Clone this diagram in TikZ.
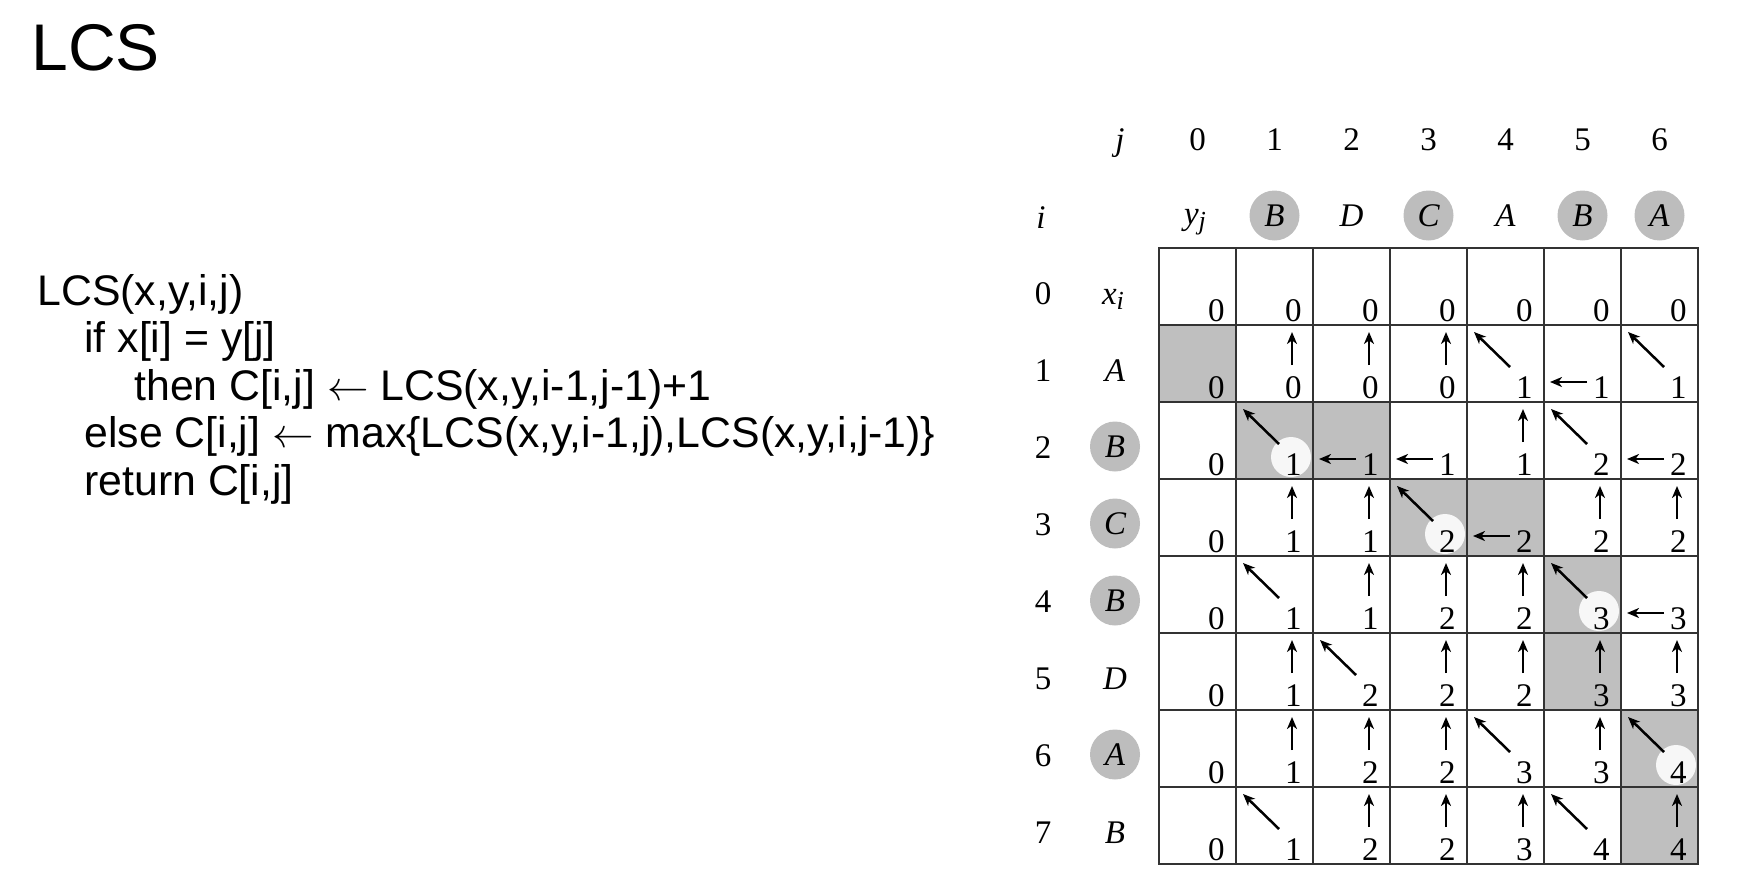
\documentclass[tikz,border=0pt]{standalone}
\usepackage{fontspec}
\setmainfont{Liberation Serif}
\newfontfamily\codefont{Liberation Sans}
\usetikzlibrary{arrows.meta,backgrounds}

\definecolor{pathgray}{gray}{0.75}
\definecolor{ballgray}{gray}{0.74}
\definecolor{gridgray}{gray}{0.2}

\newcommand{\tablefont}{\fontsize{16.5}{20}\selectfont}
\newcommand{\titlefont}{\fontsize{33}{38}\selectfont\codefont}
\newcommand{\codesize}{\fontsize{21.4}{25}\selectfont\codefont}

\tikzset{
  code/.style={anchor=base west, inner sep=0pt, font=\codesize},
  idx/.style={anchor=base, inner sep=0pt, font=\tablefont},
  ball/.style={circle, fill=ballgray, minimum size=25pt, inner sep=0pt, font=\tablefont\itshape},
  cell/.style={draw=gridgray, line width=1pt, minimum size=38.5pt, inner sep=0pt, outer sep=0pt},
  spot/.style={circle, fill=white!97!black, minimum size=20pt, inner sep=0pt},
  entry/.style={anchor=base east, inner sep=0pt, font=\tablefont},
  ptr/.style={line width=1.25pt, -{Stealth[length=6pt,width=5pt,inset=1.8pt]}}
}

\begin{document}
\begin{tikzpicture}[x=0.5pt, y=-0.5pt]
  \useasboundingbox (0,0) rectangle (1751,872);

  % title and pseudocode
  \node[anchor=base west, inner sep=0pt, font=\titlefont] (title) at (31,71) {LCS};
  \node[code] (l1) at (37,305) {LCS(x,y,i,j)};
  \node[code] (l2) at (84,352) {if x[i] = y[j]};
  \node[code] (l3) at (134,400) {then C[i,j] $\leftarrow$ LCS(x,y,i-1,j-1)+1};
  \node[code] (l4) at (84,447) {else C[i,j] $\leftarrow$ max\{LCS(x,y,i-1,j),LCS(x,y,i,j-1)\}};
  \node[code] (l5) at (84,495) {return C[i,j]};

  % column head
  \node[idx] (jlab) at (1120,150) {\textit{j}};
  \foreach \j in {0,...,6}
    \node[idx] (col\j) at (1197.5+77*\j,150) {\j};
  \node[idx] (ilab) at (1041,228) {\textit{i}};
  \node[idx] (ylab) at (1195,224) {\textit{y}\raisebox{-0.35ex}{\fontsize{13}{15}\selectfont\textit{j}}};
  \foreach \j/\c in {1/B,3/C,5/B,6/A}
    \node[ball] (y\j) at (1197.5+77*\j,215.5) {\c};
  \foreach \j/\c in {2/D,4/A}
    \node[idx] (y\j) at (1197.5+77*\j,227) {\textit{\c}};

  % row head
  \foreach \i in {0,...,7}
    \node[idx] (row\i) at (1043,304+77*\i) {\i};
  \node[idx] (x0) at (1113,304) {\textit{x}\raisebox{-0.35ex}{\fontsize{13}{15}\selectfont\textit{i}}};
  \foreach \i/\c in {2/B,3/C,4/B,6/A}
    \node[ball] (x\i) at (1115,292.5+77*\i) {\c};
  \foreach \i/\c in {1/A,5/D,7/B}
    \node[idx] (x\i) at (1115,304+77*\i) {\textit{\c}};

  % table
  \foreach \i in {0,...,7}
    \foreach \j in {0,...,6}
      \node[cell] (c-\i-\j) at (1197.5+77*\j,286.5+77*\i) {};

  \begin{scope}[on background layer]
    \foreach \i/\j in {1/0,2/1,2/2,3/3,3/4,4/5,5/5,6/6,7/6}
      \fill[pathgray] (c-\i-\j.north west) rectangle (c-\i-\j.south east);
    \foreach \i/\j in {2/1,3/3,4/5,6/6}
      \node[spot] (s-\i-\j) at ([shift={(55,55)}]c-\i-\j.north west) {};
  \end{scope}

  % values
  \foreach \i/\vals in {0/{0,0,0,0,0,0,0},1/{0,0,0,0,1,1,1},2/{0,1,1,1,1,2,2},
      3/{0,1,1,2,2,2,2},4/{0,1,1,2,2,3,3},5/{0,1,2,2,2,3,3},
      6/{0,1,2,2,3,3,4},7/{0,1,2,2,3,4,4}}
    \foreach \v [count=\j from 0] in \vals
      \node[entry] (n-\i-\j) at ([shift={(66,73)}]c-\i-\j.north west) {\v};

  % arrows
  \foreach \i/\j in {1/1,1/2,1/3,2/4,3/1,3/2,3/5,3/6,4/2,4/3,4/4,5/1,5/3,5/4,5/5,5/6,
      6/1,6/2,6/3,6/5,7/2,7/3,7/4,7/6}
    \draw[ptr] ([shift={(56,40)}]c-\i-\j.north west) -- ([shift={(56,7)}]c-\i-\j.north west);
  \foreach \i/\j in {1/4,1/6,2/1,2/5,3/3,4/1,4/5,5/2,6/4,6/6,7/1,7/5}
    \draw[ptr] ([shift={(43,42)}]c-\i-\j.north west) -- ([shift={(7,7)}]c-\i-\j.north west);
  \foreach \i/\j in {1/5,2/2,2/3,2/6,3/4,4/6}
    \draw[ptr] ([shift={(43,57)}]c-\i-\j.north west) -- ([shift={(6,57)}]c-\i-\j.north west);
\end{tikzpicture}
\end{document}
